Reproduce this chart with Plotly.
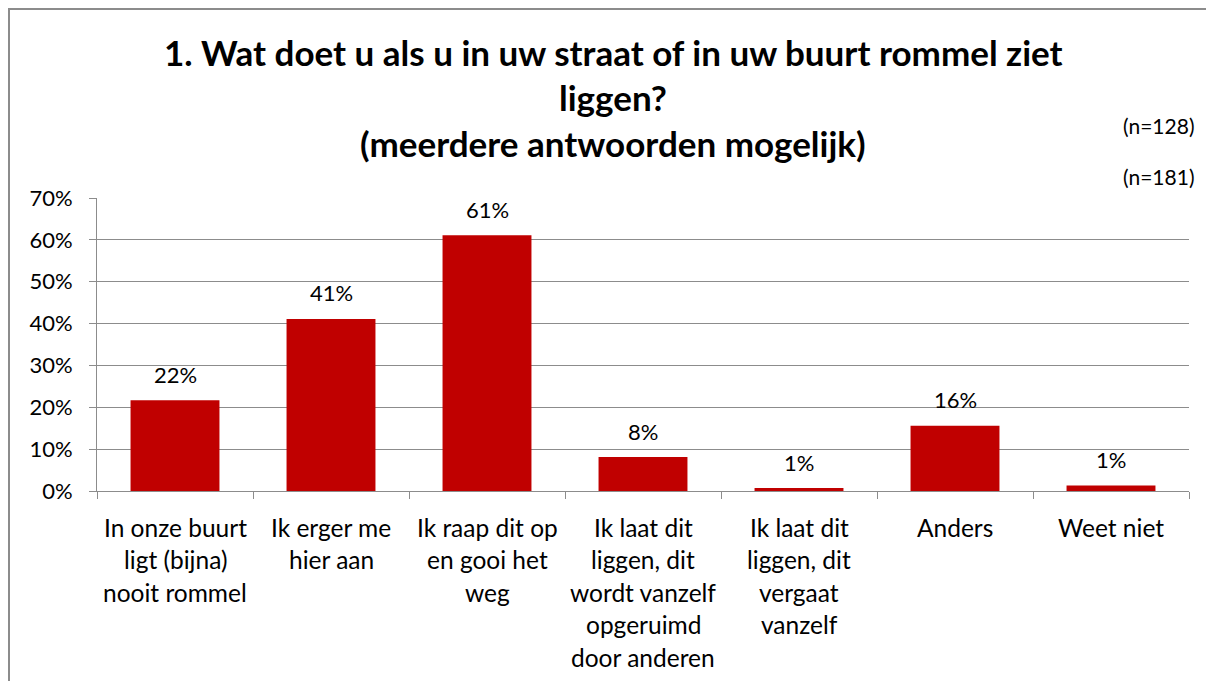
import plotly.graph_objects as go

categories = [
    "In onze buurt\nligt (bijna)\nnooit rommel",
    "Ik erger me\nhier aan",
    "Ik raap dit op\nen gooi het\nweg",
    "Ik laat dit\nliggen, dit\nwordt vanzelf\nopgeruimd\ndoor anderen",
    "Ik laat dit\nliggen, dit\nvergaat\nvanzelf",
    "Anders",
    "Weet niet",
]
values = [0.217, 0.411, 0.611, 0.081, 0.007, 0.156, 0.013]
value_labels = ["22%", "41%", "61%", "8%", "1%", "16%", "1%"]
title_lines = [
    "1. Wat doet u als u in uw straat of in uw buurt rommel ziet",
    "liggen?",
    "(meerdere antwoorden mogelijk)",
]
n_labels = ["(n=128)", "(n=181)"]
y_ticks = [0, 0.1, 0.2, 0.3, 0.4, 0.5, 0.6, 0.7]
y_ticktext = ["0%", "10%", "20%", "30%", "40%", "50%", "60%", "70%"]

FONT = "Lato"
W, H = 1214, 681
L, T = 89, 190
plot_w, plot_h = 1092, 293
R = W - L - plot_w
B = H - T - plot_h

keys = [c.replace("\n", " ") for c in categories]

fig = go.Figure(go.Bar(
    x=keys, y=values, marker=dict(color="#C00000", line=dict(width=0)),
    hoverinfo="skip",
))

def px_x(x):
    return (x - L) / plot_w

def px_y(y):
    return (T + plot_h - y) / plot_h

ann = []
for k, v, t in zip(keys, values, value_labels):
    ann.append(dict(x=k, y=v, xref="x", yref="y", text=t, showarrow=False,
                    yanchor="middle", yshift=26,
                    font=dict(family=FONT, size=22, color="black")))
for k, c in zip(keys, categories):
    for j, line in enumerate(c.split("\n")):
        ann.append(dict(x=k, y=0, xref="x", yref="y", text=line, showarrow=False,
                        yanchor="middle", yshift=-(36 + 32.5 * j),
                        font=dict(family=FONT, size=24.5, color="black")))
for line, ypx in zip(title_lines, [44, 89, 135]):
    ann.append(dict(x=px_x(605), y=px_y(ypx), xref="paper", yref="paper",
                    text="<b>%s</b>" % line, showarrow=False,
                    xanchor="center", yanchor="middle",
                    font=dict(family=FONT, size=35, color="black")))
for line, ypx in zip(n_labels, [118, 168]):
    ann.append(dict(x=px_x(1188), y=px_y(ypx), xref="paper", yref="paper",
                    text=line, showarrow=False,
                    xanchor="right", yanchor="middle",
                    font=dict(family=FONT, size=21, color="black")))

fig.update_layout(
    width=W, height=H,
    margin=dict(l=L, r=R, t=T, b=B),
    paper_bgcolor="white", plot_bgcolor="white",
    bargap=0.43, showlegend=False,
    annotations=ann,
    shapes=[dict(type="rect", xref="paper", yref="paper",
                 x0=px_x(1), x1=px_x(1240),
                 y0=px_y(720), y1=px_y(1),
                 line=dict(color="#8C8C8C", width=2), layer="below")],
    xaxis=dict(type="category", showline=True, linecolor="#8C8C8C", linewidth=1,
               ticks="outside", tickson="boundaries", ticklen=7, tickcolor="#8C8C8C",
               showticklabels=False, showgrid=False, fixedrange=True),
    yaxis=dict(range=[0, 0.7], tickvals=y_ticks, ticktext=y_ticktext,
               showline=True, linecolor="#8C8C8C", linewidth=1,
               showgrid=True, gridcolor="#8C8C8C", gridwidth=1,
               ticks="outside", ticklen=7, tickcolor="#8C8C8C",
               ticklabelstandoff=12, zeroline=False,
               tickfont=dict(family=FONT, size=22, color="black")),
)

fig.write_html("out.html")
